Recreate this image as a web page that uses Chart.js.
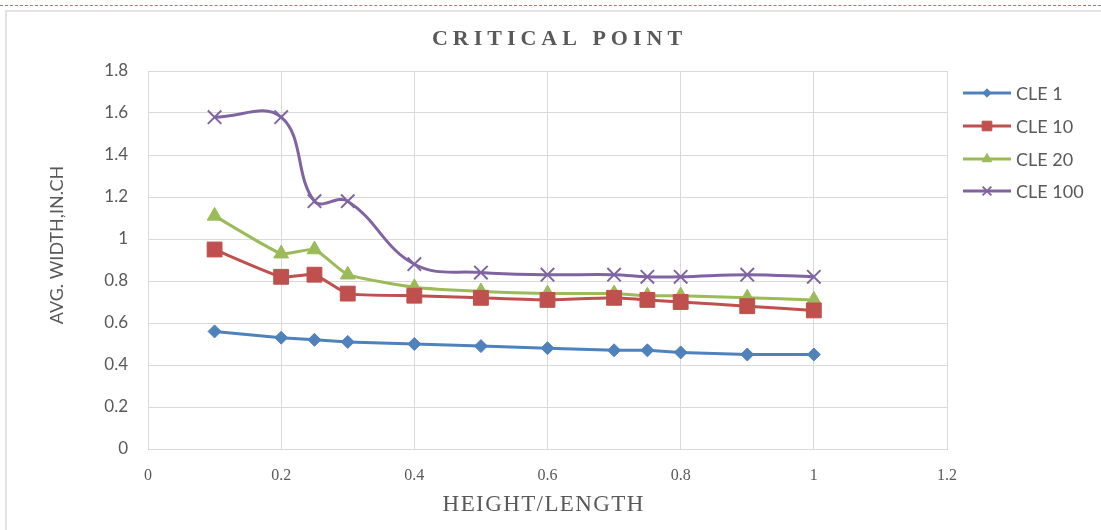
<!DOCTYPE html>
<html>
<head>
<meta charset="utf-8">
<script src="https://cdn.jsdelivr.net/npm/chart.js@4"></script>
<style>
  html, body { margin: 0; padding: 0; background: #fff; }
  #wrap { position: relative; width: 1101px; height: 530px; overflow: hidden; }
  #dash { position: absolute; left: 0; top: 5px; width: 1101px; border-top: 1px dashed #5b8fd6; }
  #frame { position: absolute; left: 5px; top: 10px; width: 1100px; height: 530px;
           border-left: 2px solid #e3e3e3; border-top: 2px solid #e3e3e3; }
  canvas { position: absolute; left: 0; top: 0; }
</style>
</head>
<body>
<div id="wrap">
  <div id="dash"></div>
  <div id="frame"></div>
  <canvas id="c" width="1101" height="530"></canvas>
</div>
<script>
const xValues = [0.1, 0.2, 0.25, 0.3, 0.4, 0.5, 0.6, 0.7, 0.75, 0.8, 0.9, 1.0];
const seriesNames = ['CLE 1', 'CLE 10', 'CLE 20', 'CLE 100'];
const cle1   = [0.56, 0.53, 0.52, 0.51, 0.50, 0.49, 0.48, 0.47, 0.47, 0.46, 0.45, 0.45];
const cle10  = [0.95, 0.82, 0.83, 0.74, 0.73, 0.72, 0.71, 0.72, 0.71, 0.70, 0.68, 0.66];
const cle20  = [1.11, 0.93, 0.95, 0.83, 0.77, 0.75, 0.74, 0.74, 0.73, 0.73, 0.72, 0.71];
const cle100 = [1.58, 1.58, 1.18, 1.18, 0.88, 0.84, 0.83, 0.83, 0.82, 0.82, 0.83, 0.82];
const titleText = 'CRITICAL POINT';
const xTitle = 'HEIGHT/LENGTH';
const yTitle = 'AVG. WIDTH,IN.CH';

const colors = ['#4f81bd', '#c0504d', '#9bbb59', '#8064a2'];
const styles = ['rectRot', 'rect', 'triangle', 'crossRot'];
const radii = [6.5, 10.5, 8.5, 9.5];
const tensions = [0, 0.15, 0.15, 0.4];
const allSeries = [cle1, cle10, cle20, cle100];

const datasets = allSeries.map((vals, i) => ({
  label: seriesNames[i],
  data: xValues.map((x, j) => ({x: x, y: vals[j]})),
  borderColor: colors[i],
  backgroundColor: colors[i],
  borderWidth: 3,
  pointStyle: styles[i],
  pointRadius: radii[i],
  pointBorderWidth: i === 3 ? 2 : 1,
  pointBorderColor: colors[i],
  pointBackgroundColor: colors[i],
  tension: tensions[i],
  showLine: true,
  fill: false
}));

const gray = '#595959';

function spacedText(ctx, text, x, y, spacing) {
  try { ctx.letterSpacing = spacing + 'px'; } catch (e) {}
  ctx.fillText(text, x + spacing / 2, y);
  try { ctx.letterSpacing = '0px'; } catch (e) {}
}

const titlesPlugin = {
  id: 'customTitles',
  afterDraw(chart) {
    const ctx = chart.ctx;
    ctx.save();
    ctx.fillStyle = gray;
    ctx.textAlign = 'center';
    ctx.textBaseline = 'middle';
    ctx.font = 'bold 22px "Liberation Serif", "Times New Roman", serif';
    spacedText(ctx, titleText, 557, 39, 5);
    ctx.font = '23px "Liberation Serif", "Times New Roman", serif';
    spacedText(ctx, xTitle, 543, 505, 1.4);
    ctx.translate(57, 245);
    ctx.rotate(-Math.PI / 2);
    ctx.font = '18px Lato, "Open Sans", sans-serif';
    ctx.fillText(yTitle, 0, 0);
    ctx.restore();
  }
};

const legendPlugin = {
  id: 'customLegend',
  afterDraw(chart) {
    const ctx = chart.ctx;
    const ys = [93, 126, 159, 191];
    chart.data.datasets.forEach((ds, i) => {
      const y = ys[i];
      ctx.save();
      ctx.strokeStyle = ds.borderColor;
      ctx.lineWidth = 3;
      ctx.beginPath();
      ctx.moveTo(963, y);
      ctx.lineTo(1011, y);
      ctx.stroke();
      ctx.fillStyle = ds.backgroundColor;
      ctx.strokeStyle = ds.borderColor;
      ctx.lineWidth = ds.pointBorderWidth;
      Chart.helpers.drawPoint(ctx, {
        pointStyle: ds.pointStyle, rotation: 0,
        borderWidth: ds.pointBorderWidth, radius: ds.pointRadius * 0.65
      }, 987, y);
      ctx.font = '18px Lato, "Open Sans", sans-serif';
      ctx.fillStyle = gray;
      ctx.textAlign = 'left';
      ctx.textBaseline = 'middle';
      ctx.fillText(ds.label, 1016, y + 1);
      ctx.restore();
    });
  }
};

new Chart(document.getElementById('c'), {
  type: 'scatter',
  data: { datasets: datasets },
  options: {
    responsive: false,
    animation: false,
    layout: { padding: { top: 71, right: 154, left: 0, bottom: 0 } },
    plugins: {
      legend: { display: false },
      title: { display: false },
      tooltip: { enabled: false }
    },
    scales: {
      x: {
        type: 'linear',
        min: 0, max: 1.2,
        afterFit(scale) { scale.height = 81; },
        ticks: {
          stepSize: 0.2,
          padding: 17,
          color: gray,
          font: { family: '"Liberation Serif", "Times New Roman", serif', size: 16 },
          callback: (v) => Number(v.toFixed(1)).toString()
        },
        grid: { color: '#d9d9d9', lineWidth: 1, drawTicks: false },
        border: { color: '#d9d9d9', width: 1 },
        title: { display: false, text: xTitle }
      },
      y: {
        type: 'linear',
        min: 0, max: 1.8,
        afterFit(scale) { scale.width = 148; },
        ticks: {
          stepSize: 0.2,
          padding: 20,
          color: gray,
          font: { family: 'Lato, "Open Sans", sans-serif', size: 17 },
          callback: (v) => Number(v.toFixed(1)).toString()
        },
        grid: { color: '#d9d9d9', lineWidth: 1, drawTicks: false },
        border: { color: '#d9d9d9', width: 1 },
        title: { display: false, text: yTitle }
      }
    }
  },
  plugins: [titlesPlugin, legendPlugin]
});
</script>
</body>
</html>
